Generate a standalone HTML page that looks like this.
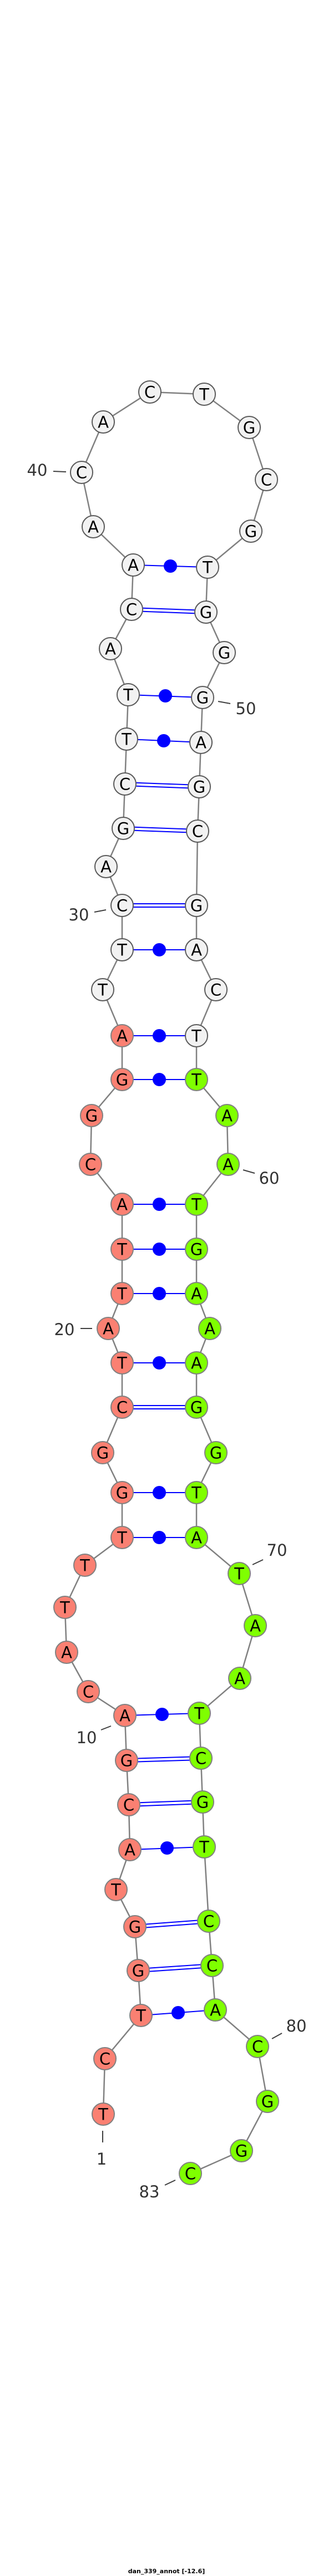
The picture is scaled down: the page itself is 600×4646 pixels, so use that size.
<!DOCTYPE html>
<html><head><meta charset="utf-8"><style>
html,body{margin:0;padding:0;background:#fff;}
svg{display:block;}
.n text{font-family:"DejaVu Sans","Liberation Sans",sans-serif;font-size:29px;text-anchor:middle;fill:#000;}
.lbl{font-family:"DejaVu Sans","Liberation Sans",sans-serif;font-size:29px;font-weight:normal;fill:#333;text-anchor:middle;}
.r circle{fill:#fa8072;stroke:#808080;stroke-width:2;}
.w circle{fill:#f2f2f2;stroke:#5a5a5a;stroke-width:2;}
.g circle{fill:#7fff00;stroke:#808080;stroke-width:2;}
.bp{stroke:#0000ff;stroke-width:2;}
.tk{stroke:#404040;stroke-width:2;}
</style></head><body>
<svg width="600" height="4646" viewBox="0 0 600 4646" xmlns="http://www.w3.org/2000/svg">
<polyline fill="none" stroke="#808080" stroke-width="2.5" points="186,3813 189,3713 254,3635 249,3554 243,3475 209,3408 234,3336 232,3255 228,3175 225,3094 159,3051 120,2980 117,2899 153,2823 220,2773 220,2692 185,2620 220,2538 220,2458 195,2396 220,2333 220,2253 220,2172 163,2100 165,2012 220,1947 220,1868 185,1785 220,1713 220,1633 191,1563 222,1494 225,1414 228,1333 231,1253 199,1170 237,1099 240,1019 168,950 147,852 186,761 270,707 368,711 449,771 480,865 452,958 374,1023 371,1104 404,1177 365,1258 362,1339 359,1419 356,1499 354,1633 354,1713 389,1785 354,1868 354,1947 409,2012 411,2100 354,2172 354,2253 354,2333 378,2396 354,2458 354,2538 389,2620 354,2692 354,2773 431,2838 460,2932 432,3027 359,3090 362,3171 365,3250 368,3331 376,3465 382,3545 388,3625 464,3691 482,3790 435,3879 343,3920"/>
<g class="bp">
<line x1="254" y1="3635" x2="388" y2="3625"/>
<line x1="234" y1="3336" x2="368" y2="3331"/>
<line x1="225" y1="3094" x2="359" y2="3090"/>
<line x1="220" y1="2773" x2="354" y2="2773"/>
<line x1="220" y1="2692" x2="354" y2="2692"/>
<line x1="220" y1="2458" x2="354" y2="2458"/>
<line x1="220" y1="2333" x2="354" y2="2333"/>
<line x1="220" y1="2253" x2="354" y2="2253"/>
<line x1="220" y1="2172" x2="354" y2="2172"/>
<line x1="220" y1="1947" x2="354" y2="1947"/>
<line x1="220" y1="1868" x2="354" y2="1868"/>
<line x1="220" y1="1713" x2="354" y2="1713"/>
<line x1="228" y1="1333" x2="362" y2="1339"/>
<line x1="231" y1="1253" x2="365" y2="1258"/>
<line x1="240" y1="1019" x2="374" y2="1023"/>
</g>
<g fill="#0000ff">
<circle cx="321" cy="3630" r="12"/>
<circle cx="301" cy="3333" r="12"/>
<circle cx="292" cy="3092" r="12"/>
<circle cx="287" cy="2773" r="12"/>
<circle cx="287" cy="2692" r="12"/>
<circle cx="287" cy="2458" r="12"/>
<circle cx="287" cy="2333" r="12"/>
<circle cx="287" cy="2253" r="12"/>
<circle cx="287" cy="2172" r="12"/>
<circle cx="287" cy="1947" r="12"/>
<circle cx="287" cy="1868" r="12"/>
<circle cx="287" cy="1713" r="12"/>
<circle cx="295" cy="1336" r="12"/>
<circle cx="298" cy="1255" r="12"/>
<circle cx="307" cy="1021" r="12"/>
</g>
<g class="bp">
<line x1="249" y1="3551" x2="382" y2="3542"/><line x1="249" y1="3557" x2="382" y2="3548"/>
<line x1="243" y1="3472" x2="376" y2="3462"/><line x1="243" y1="3478" x2="376" y2="3468"/>
<line x1="232" y1="3252" x2="365" y2="3247"/><line x1="232" y1="3258" x2="365" y2="3253"/>
<line x1="228" y1="3172" x2="362" y2="3168"/><line x1="228" y1="3178" x2="362" y2="3174"/>
<line x1="220" y1="2535" x2="354" y2="2535"/><line x1="220" y1="2541" x2="354" y2="2541"/>
<line x1="220" y1="1630" x2="354" y2="1630"/><line x1="220" y1="1636" x2="354" y2="1636"/>
<line x1="222" y1="1491" x2="356" y2="1496"/><line x1="222" y1="1497" x2="356" y2="1502"/>
<line x1="225" y1="1411" x2="359" y2="1416"/><line x1="225" y1="1417" x2="359" y2="1422"/>
<line x1="237" y1="1096" x2="371" y2="1101"/><line x1="237" y1="1102" x2="371" y2="1107"/>
</g>
<g class="n r">
<g transform="translate(186,3813)"><circle r="20"/><text y="10.5">T</text></g>
<g transform="translate(189,3713)"><circle r="20"/><text y="10.5">C</text></g>
<g transform="translate(254,3635)"><circle r="20"/><text y="10.5">T</text></g>
<g transform="translate(249,3554)"><circle r="20"/><text y="10.5">G</text></g>
<g transform="translate(243,3475)"><circle r="20"/><text y="10.5">G</text></g>
<g transform="translate(209,3408)"><circle r="20"/><text y="10.5">T</text></g>
<g transform="translate(234,3336)"><circle r="20"/><text y="10.5">A</text></g>
<g transform="translate(232,3255)"><circle r="20"/><text y="10.5">C</text></g>
<g transform="translate(228,3175)"><circle r="20"/><text y="10.5">G</text></g>
<g transform="translate(225,3094)"><circle r="20"/><text y="10.5">A</text></g>
<g transform="translate(159,3051)"><circle r="20"/><text y="10.5">C</text></g>
<g transform="translate(120,2980)"><circle r="20"/><text y="10.5">A</text></g>
<g transform="translate(117,2899)"><circle r="20"/><text y="10.5">T</text></g>
<g transform="translate(153,2823)"><circle r="20"/><text y="10.5">T</text></g>
<g transform="translate(220,2773)"><circle r="20"/><text y="10.5">T</text></g>
<g transform="translate(220,2692)"><circle r="20"/><text y="10.5">G</text></g>
<g transform="translate(185,2620)"><circle r="20"/><text y="10.5">G</text></g>
<g transform="translate(220,2538)"><circle r="20"/><text y="10.5">C</text></g>
<g transform="translate(220,2458)"><circle r="20"/><text y="10.5">T</text></g>
<g transform="translate(195,2396)"><circle r="20"/><text y="10.5">A</text></g>
<g transform="translate(220,2333)"><circle r="20"/><text y="10.5">T</text></g>
<g transform="translate(220,2253)"><circle r="20"/><text y="10.5">T</text></g>
<g transform="translate(220,2172)"><circle r="20"/><text y="10.5">A</text></g>
<g transform="translate(163,2100)"><circle r="20"/><text y="10.5">C</text></g>
<g transform="translate(165,2012)"><circle r="20"/><text y="10.5">G</text></g>
<g transform="translate(220,1947)"><circle r="20"/><text y="10.5">G</text></g>
<g transform="translate(220,1868)"><circle r="20"/><text y="10.5">A</text></g>
</g>
<g class="n w">
<g transform="translate(185,1785)"><circle r="20"/><text y="10.5">T</text></g>
<g transform="translate(220,1713)"><circle r="20"/><text y="10.5">T</text></g>
<g transform="translate(220,1633)"><circle r="20"/><text y="10.5">C</text></g>
<g transform="translate(191,1563)"><circle r="20"/><text y="10.5">A</text></g>
<g transform="translate(222,1494)"><circle r="20"/><text y="10.5">G</text></g>
<g transform="translate(225,1414)"><circle r="20"/><text y="10.5">C</text></g>
<g transform="translate(228,1333)"><circle r="20"/><text y="10.5">T</text></g>
<g transform="translate(231,1253)"><circle r="20"/><text y="10.5">T</text></g>
<g transform="translate(199,1170)"><circle r="20"/><text y="10.5">A</text></g>
<g transform="translate(237,1099)"><circle r="20"/><text y="10.5">C</text></g>
<g transform="translate(240,1019)"><circle r="20"/><text y="10.5">A</text></g>
<g transform="translate(168,950)"><circle r="20"/><text y="10.5">A</text></g>
<g transform="translate(147,852)"><circle r="20"/><text y="10.5">C</text></g>
<g transform="translate(186,761)"><circle r="20"/><text y="10.5">A</text></g>
<g transform="translate(270,707)"><circle r="20"/><text y="10.5">C</text></g>
<g transform="translate(368,711)"><circle r="20"/><text y="10.5">T</text></g>
<g transform="translate(449,771)"><circle r="20"/><text y="10.5">G</text></g>
<g transform="translate(480,865)"><circle r="20"/><text y="10.5">C</text></g>
<g transform="translate(452,958)"><circle r="20"/><text y="10.5">G</text></g>
<g transform="translate(374,1023)"><circle r="20"/><text y="10.5">T</text></g>
<g transform="translate(371,1104)"><circle r="20"/><text y="10.5">G</text></g>
<g transform="translate(404,1177)"><circle r="20"/><text y="10.5">G</text></g>
<g transform="translate(365,1258)"><circle r="20"/><text y="10.5">G</text></g>
<g transform="translate(362,1339)"><circle r="20"/><text y="10.5">A</text></g>
<g transform="translate(359,1419)"><circle r="20"/><text y="10.5">G</text></g>
<g transform="translate(356,1499)"><circle r="20"/><text y="10.5">C</text></g>
<g transform="translate(354,1633)"><circle r="20"/><text y="10.5">G</text></g>
<g transform="translate(354,1713)"><circle r="20"/><text y="10.5">A</text></g>
<g transform="translate(389,1785)"><circle r="20"/><text y="10.5">C</text></g>
<g transform="translate(354,1868)"><circle r="20"/><text y="10.5">T</text></g>
</g>
<g class="n g">
<g transform="translate(354,1947)"><circle r="20"/><text y="10.5">T</text></g>
<g transform="translate(409,2012)"><circle r="20"/><text y="10.5">A</text></g>
<g transform="translate(411,2100)"><circle r="20"/><text y="10.5">A</text></g>
<g transform="translate(354,2172)"><circle r="20"/><text y="10.5">T</text></g>
<g transform="translate(354,2253)"><circle r="20"/><text y="10.5">G</text></g>
<g transform="translate(354,2333)"><circle r="20"/><text y="10.5">A</text></g>
<g transform="translate(378,2396)"><circle r="20"/><text y="10.5">A</text></g>
<g transform="translate(354,2458)"><circle r="20"/><text y="10.5">A</text></g>
<g transform="translate(354,2538)"><circle r="20"/><text y="10.5">G</text></g>
<g transform="translate(389,2620)"><circle r="20"/><text y="10.5">G</text></g>
<g transform="translate(354,2692)"><circle r="20"/><text y="10.5">T</text></g>
<g transform="translate(354,2773)"><circle r="20"/><text y="10.5">A</text></g>
<g transform="translate(431,2838)"><circle r="20"/><text y="10.5">T</text></g>
<g transform="translate(460,2932)"><circle r="20"/><text y="10.5">A</text></g>
<g transform="translate(432,3027)"><circle r="20"/><text y="10.5">A</text></g>
<g transform="translate(359,3090)"><circle r="20"/><text y="10.5">T</text></g>
<g transform="translate(362,3171)"><circle r="20"/><text y="10.5">C</text></g>
<g transform="translate(365,3250)"><circle r="20"/><text y="10.5">G</text></g>
<g transform="translate(368,3331)"><circle r="20"/><text y="10.5">T</text></g>
<g transform="translate(376,3465)"><circle r="20"/><text y="10.5">C</text></g>
<g transform="translate(382,3545)"><circle r="20"/><text y="10.5">C</text></g>
<g transform="translate(388,3625)"><circle r="20"/><text y="10.5">A</text></g>
<g transform="translate(464,3691)"><circle r="20"/><text y="10.5">C</text></g>
<g transform="translate(482,3790)"><circle r="20"/><text y="10.5">G</text></g>
<g transform="translate(435,3879)"><circle r="20"/><text y="10.5">G</text></g>
<g transform="translate(343,3920)"><circle r="20"/><text y="10.5">C</text></g>
</g>
<g class="tk">
<line x1="96" y1="850" x2="119" y2="851"/>
<line x1="393" y1="1265" x2="415" y2="1269"/>
<line x1="170" y1="1645" x2="191" y2="1641"/>
<line x1="438" y1="2110" x2="459" y2="2116"/>
<line x1="145" y1="2396" x2="166" y2="2396"/>
<line x1="455" y1="2822" x2="474" y2="2813"/>
<line x1="182" y1="3120" x2="200" y2="3113"/>
<line x1="185" y1="3843" x2="185" y2="3864"/>
<line x1="490" y1="3677" x2="508" y2="3667"/>
<line x1="297" y1="3941" x2="316" y2="3932"/>
</g>
<g class="lbl">
<text x="67" y="858">40</text>
<text x="443" y="1288">50</text>
<text x="142" y="1660">30</text>
<text x="485" y="2135">60</text>
<text x="116" y="2408">20</text>
<text x="499" y="2806">70</text>
<text x="156" y="3144">10</text>
<text x="183" y="3904">1</text>
<text x="534" y="3664">80</text>
<text x="269" y="3963">83</text>
</g>
<text x="300" y="4641" font-family="DejaVu Sans, Liberation Sans, sans-serif" font-size="11" font-weight="bold" text-anchor="middle" fill="#000">dan_339_annot [-12.6]</text>
</svg>
</body></html>
